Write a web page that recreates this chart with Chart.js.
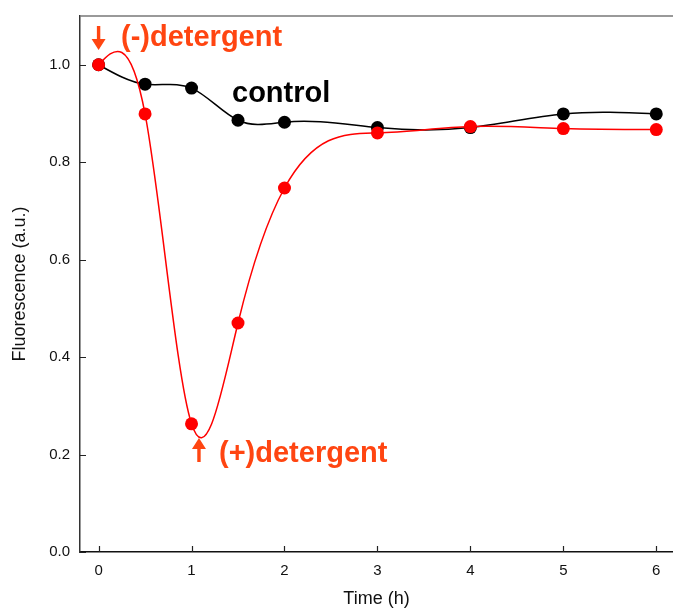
<!DOCTYPE html>
<html>
<head>
<meta charset="utf-8">
<script src="https://cdn.jsdelivr.net/npm/chart.js@4/dist/chart.umd.min.js"></script>
<style>
  html, body { margin: 0; padding: 0; background: #fff; }
  #wrap { width: 673px; height: 610px; }
</style>
</head>
<body>
<div id="wrap"><canvas id="c" width="673" height="610"></canvas></div>
<script>
// Sampling times (h)
const times = [0, 0.5, 1, 1.5, 2, 3, 4, 5, 6];
// Fluorescence (a.u.)
const controlValues   = [1.0, 0.960, 0.952, 0.886, 0.882, 0.871, 0.871, 0.899, 0.899];
const detergentValues = [1.0, 0.899, 0.263, 0.470, 0.747, 0.860, 0.873, 0.869, 0.867];
// Axis ticks
const xTicks = [0, 1, 2, 3, 4, 5, 6];
const yTicks = [0.0, 0.2, 0.4, 0.6, 0.8, 1.0];
// Annotation texts
const labelMinus = '(-)detergent';
const labelPlus = '(+)detergent';
const labelControl = 'control';

const ACCENT = '#ff4511';
const FONT = '"Liberation Sans", Arial, Helvetica, sans-serif';

const toXY = (vals) => vals.map((v, i) => ({ x: times[i], y: v }));

// Replace the default bezier control points of each line with those of a
// natural cubic spline through the same (pixel) points, so the library's
// line element draws a smooth interpolating curve.
const naturalSpline = {
  id: 'naturalSpline',
  beforeDatasetsDraw(chart) {
    chart.getSortedVisibleDatasetMetas().forEach(meta => {
      const line = meta.dataset;
      const pts = meta.data;
      if (!line || pts.length < 3) return;
      line.updateControlPoints(chart.chartArea, 'x');
      const n = pts.length;
      const X = pts.map(p => p.x), Y = pts.map(p => p.y);
      const h = [];
      for (let i = 0; i < n - 1; i++) h.push(X[i + 1] - X[i]);
      // solve tridiagonal system for second derivatives (natural ends)
      const M = new Array(n).fill(0);
      const a = new Array(n).fill(0), b = new Array(n).fill(1), c = new Array(n).fill(0), d = new Array(n).fill(0);
      for (let i = 1; i < n - 1; i++) {
        a[i] = h[i - 1];
        b[i] = 2 * (h[i - 1] + h[i]);
        c[i] = h[i];
        d[i] = 6 * ((Y[i + 1] - Y[i]) / h[i] - (Y[i] - Y[i - 1]) / h[i - 1]);
      }
      for (let i = 1; i < n; i++) {
        const w = a[i] / b[i - 1];
        b[i] -= w * c[i - 1];
        d[i] -= w * d[i - 1];
      }
      M[n - 1] = d[n - 1] / b[n - 1];
      for (let i = n - 2; i >= 0; i--) M[i] = (d[i] - c[i] * M[i + 1]) / b[i];
      for (let i = 0; i < n - 1; i++) {
        const hi = h[i];
        const dy = (Y[i + 1] - Y[i]) / hi;
        const s0 = dy - hi * (2 * M[i] + M[i + 1]) / 6;
        const s1 = dy + hi * (M[i] + 2 * M[i + 1]) / 6;
        pts[i].cp2x = X[i] + hi / 3;
        pts[i].cp2y = Y[i] + s0 * hi / 3;
        pts[i + 1].cp1x = X[i + 1] - hi / 3;
        pts[i + 1].cp1y = Y[i + 1] - s1 * hi / 3;
      }
      line._path = undefined;
    });
  }
};

// Inward tick marks, top frame line and text annotations
const decor = {
  id: 'decor',
  afterDraw(chart) {
    const { ctx, chartArea: a, scales: { x, y } } = chart;
    ctx.save();
    // top frame line
    ctx.strokeStyle = '#777';
    ctx.lineWidth = 1.5;
    ctx.beginPath();
    ctx.moveTo(a.left, a.top);
    ctx.lineTo(a.right, a.top);
    ctx.stroke();
    // inward ticks
    ctx.strokeStyle = '#222';
    ctx.lineWidth = 1.2;
    ctx.beginPath();
    xTicks.forEach(t => {
      const px = Math.round(x.getPixelForValue(t)) + 0.5;
      ctx.moveTo(px, a.bottom);
      ctx.lineTo(px, a.bottom - 6);
    });
    yTicks.forEach(t => {
      const py = Math.round(y.getPixelForValue(t)) + 0.5;
      ctx.moveTo(a.left, py);
      ctx.lineTo(a.left + 6, py);
    });
    ctx.stroke();

    // arrows
    const arrow = (cx, tipY, dir) => {
      // dir = 1 pointing down, -1 pointing up
      const len = 24, headLen = 11, headHalf = 7, shaft = 1.7;
      const baseY = tipY - dir * len;
      const headBase = tipY - dir * headLen;
      ctx.fillStyle = ACCENT;
      ctx.beginPath();
      ctx.moveTo(cx - shaft, baseY);
      ctx.lineTo(cx + shaft, baseY);
      ctx.lineTo(cx + shaft, headBase);
      ctx.lineTo(cx + headHalf, headBase);
      ctx.lineTo(cx, tipY);
      ctx.lineTo(cx - headHalf, headBase);
      ctx.lineTo(cx - shaft, headBase);
      ctx.closePath();
      ctx.fill();
    };
    arrow(x.getPixelForValue(times[0]), 50, 1);
    arrow(x.getPixelForValue(1.08), 438, -1);

    ctx.font = 'bold 29px ' + FONT;
    ctx.textBaseline = 'alphabetic';
    ctx.textAlign = 'left';
    ctx.fillStyle = ACCENT;
    ctx.fillText(labelMinus, 121, 46);
    ctx.fillText(labelPlus, 219, 462);
    ctx.fillStyle = '#000';
    ctx.fillText(labelControl, 232, 102);
    ctx.restore();
  }
};

new Chart(document.getElementById('c'), {
  type: 'line',
  data: {
    datasets: [
      {
        label: '(+)detergent',
        data: toXY(detergentValues),
        borderColor: '#ff0000',
        backgroundColor: '#ff0000',
        borderWidth: 1.5,
        pointRadius: 6.5,
        pointBorderWidth: 0,
        tension: 0.4,
        fill: false
      },
      {
        label: 'control',
        data: toXY(controlValues),
        borderColor: '#000000',
        backgroundColor: '#000000',
        borderWidth: 1.5,
        pointRadius: 6.5,
        pointBorderWidth: 0,
        tension: 0.4,
        fill: false
      }
    ]
  },
  options: {
    responsive: false,
    animation: false,
    events: [],
    layout: { autoPadding: false, padding: { top: 16, right: 0, left: 0, bottom: 0 } },
    plugins: { legend: { display: false }, tooltip: { enabled: false } },
    scales: {
      x: {
        type: 'linear',
        min: -0.2,
        max: 6.18,
        afterFit: (s) => { s.height = 58; s.paddingLeft = 0; s.paddingRight = 0; },
        afterBuildTicks: (s) => { s.ticks = xTicks.map(v => ({ value: v })); },
        grid: { display: false, drawTicks: false },
        border: { display: true, color: '#111', width: 1.5 },
        ticks: {
          padding: 10,
          color: '#111',
          font: { family: FONT, size: 15 },
          callback: (v) => String(v)
        },
        title: {
          display: true,
          text: 'Time (h)',
          color: '#111',
          font: { family: FONT, size: 18 },
          padding: { top: 0, bottom: 0 }
        }
      },
      y: {
        type: 'linear',
        min: 0,
        max: 1.1,
        afterFit: (s) => { s.width = 80; s.paddingTop = 0; s.paddingBottom = 0; },
        afterBuildTicks: (s) => { s.ticks = yTicks.map(v => ({ value: v })); },
        grid: { display: false, drawTicks: false },
        border: { display: true, color: '#333', width: 1.5 },
        ticks: {
          padding: 10,
          color: '#111',
          font: { family: FONT, size: 15 },
          callback: (v) => Number(v).toFixed(1)
        },
        title: {
          display: true,
          text: 'Fluorescence (a.u.)',
          color: '#111',
          font: { family: FONT, size: 18 },
          padding: { top: 9, bottom: 0 }
        }
      }
    }
  },
  plugins: [naturalSpline, decor]
});
</script>
</body>
</html>
